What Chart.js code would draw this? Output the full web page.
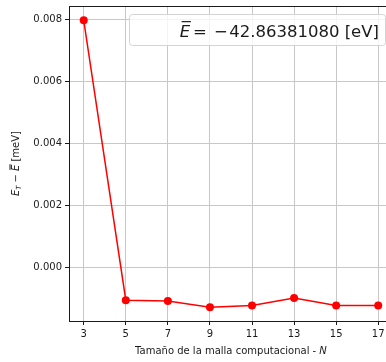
<!DOCTYPE html>
<html>
<head>
<meta charset="utf-8">
<script src="https://cdn.jsdelivr.net/npm/chart.js@4"></script>
<style>
  html, body { margin: 0; padding: 0; background: #fff; overflow: hidden; }
</style>
</head>
<body>
<canvas id="c" width="386" height="362"></canvas>
<script>
// Mesh sizes N and the energy difference E_T - mean(E) in meV
const meshSizes = [3, 5, 7, 9, 11, 13, 15, 17];
const energyDiff = [0.00796, -0.00104, -0.00107, -0.00127, -0.00121, -0.00097, -0.00121, -0.00121];
const xTicks = [3, 5, 7, 9, 11, 13, 15, 17];
const yTicks = [0.000, 0.002, 0.004, 0.006, 0.008];
const meanEnergyValue = '42.86381080';

const FONT = '"DejaVu Sans", sans-serif';
const INK = '#1a1a1a';

// Draw a run of text pieces (italic / subscript / overline / extra gaps) from x
function drawRuns(ctx, runs, x, y) {
  let cx = x;
  for (const r of runs) {
    cx += r.gap || 0;
    ctx.font = (r.italic ? 'italic ' : '') + r.size + 'px ' + FONT;
    const w = ctx.measureText(r.t).width;
    ctx.fillText(r.t, cx, y + (r.dy || 0));
    if (r.overline) {
      ctx.save();
      ctx.strokeStyle = INK;
      ctx.lineWidth = Math.max(1, r.size / 14);
      ctx.beginPath();
      ctx.moveTo(cx + r.size * 0.12, y - r.size * 0.9);
      ctx.lineTo(cx + w + r.size * 0.05, y - r.size * 0.9);
      ctx.stroke();
      ctx.restore();
    }
    cx += w;
  }
  return cx - x;
}
function measureRuns(ctx, runs) {
  let w = 0;
  for (const r of runs) {
    ctx.font = (r.italic ? 'italic ' : '') + r.size + 'px ' + FONT;
    w += ctx.measureText(r.t).width + (r.gap || 0);
  }
  return w;
}

const decorations = {
  id: 'decorations',
  afterDraw(chart) {
    const ctx = chart.ctx;
    const a = chart.chartArea;
    ctx.save();
    // top spine
    ctx.strokeStyle = INK;
    ctx.lineWidth = 1;
    ctx.beginPath();
    ctx.moveTo(a.left, a.top + 0.5);
    ctx.lineTo(a.right, a.top + 0.5);
    ctx.stroke();

    ctx.fillStyle = INK;
    ctx.textBaseline = 'alphabetic';

    // x axis title, centred on the full axis span
    const xScale = chart.scales.x;
    const xRuns = [
      { t: 'Tama\u00f1o de la malla computacional - ', size: 10 },
      { t: 'N', size: 10, italic: true }
    ];
    const xw = measureRuns(ctx, xRuns);
    const xMid = xScale.getPixelForValue((2.3 + 17.7) / 2);
    drawRuns(ctx, xRuns, xMid - xw / 2, 354);

    // y axis title (rotated)
    const yRuns = [
      { t: 'E', size: 10, italic: true },
      { t: 'T', size: 7, italic: true, dy: 2 },
      { t: '\u2212', size: 10, gap: 3 },
      { t: 'E', size: 10, italic: true, overline: true, gap: 3 },
      { t: ' [meV]', size: 10 }
    ];
    const yw = measureRuns(ctx, yRuns);
    ctx.save();
    ctx.translate(19, (a.top + a.bottom) / 2);
    ctx.rotate(-Math.PI / 2);
    drawRuns(ctx, yRuns, -yw / 2, 0);
    ctx.restore();

    // legend box with the mean energy
    const LS = 16.5;
    const lRuns = [
      { t: 'E', size: LS, italic: true, overline: true },
      { t: '=', size: LS, gap: 3 },
      { t: '\u2212', size: LS, gap: 7 },
      { t: meanEnergyValue, size: LS, gap: 1.5 },
      { t: ' [eV]', size: LS }
    ];
    const lw = measureRuns(ctx, lRuns);
    const boxRight = chart.width - 1, boxTop = a.top + 8, boxH = 31;
    const textRight = boxRight - 6;
    const textLeft = textRight - lw;
    const boxLeft = 129;
    ctx.beginPath();
    ctx.roundRect(boxLeft + 0.5, boxTop + 0.5, boxRight - boxLeft, boxH, 3);
    ctx.fillStyle = 'rgba(255,255,255,0.8)';
    ctx.fill();
    ctx.strokeStyle = '#d4d4d4';
    ctx.lineWidth = 1;
    ctx.stroke();
    ctx.fillStyle = INK;
    drawRuns(ctx, lRuns, textLeft, boxTop + 22.5);
    ctx.restore();
  }
};

new Chart(document.getElementById('c'), {
  type: 'line',
  data: {
    datasets: [{
      data: meshSizes.map((n, i) => ({ x: n, y: energyDiff[i] })),
      borderColor: '#ff0000',
      backgroundColor: '#ff0000',
      borderWidth: 1.5,
      pointRadius: 4,
      pointBorderWidth: 0,
      tension: 0
    }]
  },
  options: {
    responsive: false,
    animation: false,
    layout: { autoPadding: false, padding: { top: 6, left: 0, right: 0, bottom: 0 } },
    plugins: { legend: { display: false }, tooltip: { enabled: false } },
    scales: {
      x: {
        type: 'linear',
        min: 2.3,
        max: 17.37,
        afterBuildTicks: s => { s.ticks = xTicks.map(v => ({ value: v })); },
        afterFit: s => { s.height = 41; s.paddingLeft = 0; s.paddingRight = 0; },
        ticks: {
          autoSkip: false, maxRotation: 0, padding: 3,
          color: INK, font: { family: FONT, size: 10 },
          callback: v => String(v)
        },
        grid: { color: '#c8c8c8', lineWidth: 1, tickColor: INK, tickLength: 4, tickWidth: 1 },
        border: { color: INK, width: 1 }
      },
      y: {
        min: -0.00171,
        max: 0.00842,
        afterBuildTicks: s => { s.ticks = yTicks.map(v => ({ value: v })); },
        afterFit: s => { s.width = 69; s.paddingTop = 0; s.paddingBottom = 0; },
        ticks: {
          padding: 3,
          color: INK, font: { family: FONT, size: 10 },
          callback: v => v.toFixed(3)
        },
        grid: { color: '#c8c8c8', lineWidth: 1, tickColor: INK, tickLength: 4, tickWidth: 1 },
        border: { color: INK, width: 1 }
      }
    }
  },
  plugins: [decorations]
});
</script>
</body>
</html>
